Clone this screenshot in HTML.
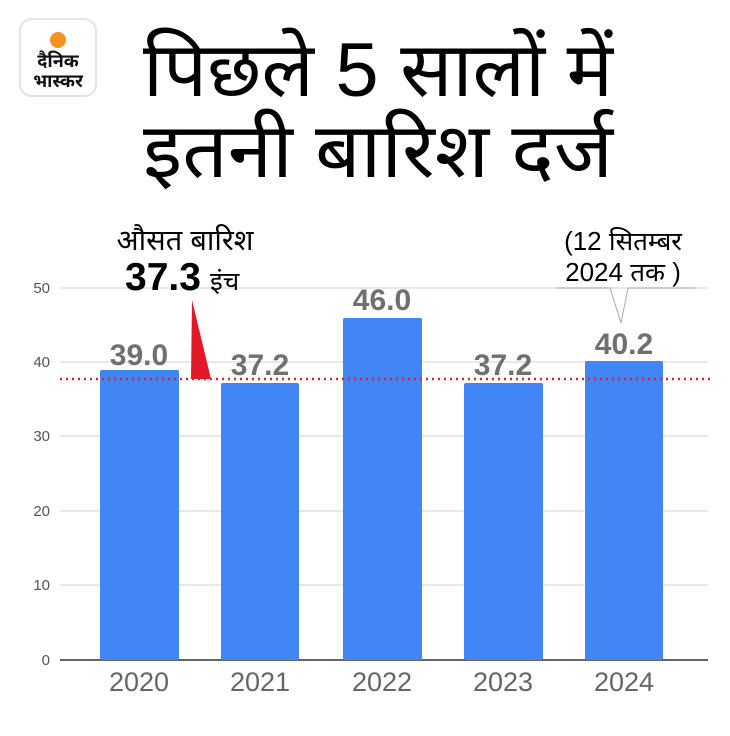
<!DOCTYPE html>
<html><head><meta charset="utf-8"><style>
html,body{margin:0;padding:0;background:#fff;}
svg{display:block;}
text{font-family:"Liberation Sans","Noto Sans Devanagari","Lohit Devanagari","FreeSans",sans-serif;}
</style></head><body>
<svg width="730" height="736" viewBox="0 0 730 736" xmlns="http://www.w3.org/2000/svg">
<rect x="20" y="19" width="76" height="77" rx="12" fill="#fff" stroke="#e4e4e4" stroke-width="2"/>
<circle cx="58" cy="40" r="8" fill="#f39325"/>
<text x="58" y="67" font-size="18" font-weight="bold" text-anchor="middle" fill="#111">दैनिक</text>
<text x="58" y="87" font-size="18" font-weight="bold" text-anchor="middle" fill="#111">भास्कर</text>
<text x="378" y="96" font-size="76" text-anchor="middle" fill="#000" textLength="470" lengthAdjust="spacingAndGlyphs">पिछले 5 सालों में</text>
<text x="378" y="177" font-size="76" text-anchor="middle" fill="#000" textLength="470" lengthAdjust="spacingAndGlyphs">इतनी बारिश दर्ज</text>
<g stroke="#e2e2e2" stroke-width="1.5">
<line x1="60" y1="288" x2="708" y2="288"/><line x1="60" y1="362" x2="708" y2="362"/>
<line x1="60" y1="436" x2="708" y2="436"/><line x1="60" y1="511" x2="708" y2="511"/>
<line x1="60" y1="585" x2="708" y2="585"/>
</g>
<line x1="60" y1="660" x2="708" y2="660" stroke="#333" stroke-width="1.5"/>
<g font-size="15" fill="#555" text-anchor="end">
<text x="50" y="293">50</text><text x="50" y="367">40</text><text x="50" y="441">30</text>
<text x="50" y="516">20</text><text x="50" y="590">10</text><text x="50" y="665">0</text>
</g>
<g fill="#4285f4">
<rect x="100" y="370" width="79" height="290" rx="2"/>
<rect x="221" y="383" width="78" height="277" rx="2"/>
<rect x="343" y="318" width="79" height="342" rx="2"/>
<rect x="464" y="383" width="79" height="277" rx="2"/>
<rect x="585" y="361" width="78" height="299" rx="2"/>
</g>
<g font-size="30" font-weight="bold" fill="#707070" text-anchor="middle">
<text x="139" y="365">39.0</text><text x="260" y="375">37.2</text>
<text x="382" y="310">46.0</text><text x="503" y="375">37.2</text><text x="624" y="354">40.2</text>
</g>
<g font-size="27" fill="#666" text-anchor="middle">
<text x="139" y="691">2020</text><text x="260" y="691">2021</text><text x="382" y="691">2022</text>
<text x="503" y="691">2023</text><text x="624" y="691">2024</text>
</g>
<line x1="60" y1="379" x2="712" y2="379" stroke="#e0202a" stroke-width="2.5" stroke-dasharray="2,4"/>
<polygon points="192,300 211,379 191,379" fill="#e3192a"/>
<text x="185" y="250" font-size="29" text-anchor="middle" fill="#000">औसत बारिश</text>
<text x="125" y="290" font-size="39" font-weight="bold" fill="#000">37.3</text>
<text x="210" y="290" font-size="26" fill="#000">इंच</text>
<text x="623" y="250" font-size="26" text-anchor="middle" fill="#000">(12 सितम्बर</text>
<text x="623" y="281" font-size="26" text-anchor="middle" fill="#000">2024 तक )</text>
<polyline points="556,288 610,288 621,323 628,288 695,288" fill="none" stroke="#aaa" stroke-width="1"/>
</svg>
</body></html>
